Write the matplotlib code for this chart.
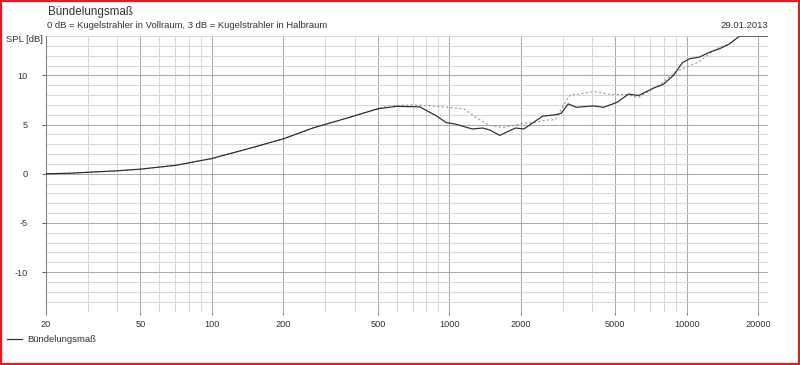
import matplotlib
matplotlib.use('Agg')
import matplotlib.pyplot as plt
from matplotlib.patches import Rectangle
from matplotlib.lines import Line2D

plt.rcParams['font.family'] = ['Liberation Sans', 'DejaVu Sans']

# measured curve (solid)
freq_main = [20, 25, 30, 40, 50, 70, 100, 150, 200, 270, 370, 500, 600, 750,
             880, 970, 1060, 1250, 1380, 1480, 1630, 1900, 2060, 2470, 2810,
             2960, 3170, 3430, 4040, 4460, 5080, 5690, 6270, 7240, 7980, 8800,
             9600, 10300, 11300, 12470, 13740, 15150, 16700, 22000]
spl_main = [0.0, 0.05, 0.15, 0.3, 0.47, 0.85, 1.55, 2.7, 3.55, 4.7, 5.65, 6.6,
            6.85, 6.8, 5.9, 5.2, 5.05, 4.55, 4.65, 4.45, 3.9, 4.65, 4.55, 5.85,
            6.0, 6.15, 7.1, 6.75, 6.9, 6.75, 7.25, 8.1, 7.95, 8.7, 9.1, 10.0,
            11.3, 11.7, 11.85, 12.35, 12.7, 13.2, 14.0, 14.0]

# second curve (dashed, grey)
freq_ref = [20, 25, 30, 40, 50, 70, 100, 150, 200, 270, 370, 480, 550, 700,
            850, 1040, 1150, 1300, 1480, 1690, 1980, 2250, 2560, 2800, 3100,
            3240, 3540, 4040, 4230, 4800, 5600, 6270, 7750, 9050, 10200, 11300,
            13300, 15150, 16700, 22000]
spl_ref = [0.0, 0.05, 0.15, 0.3, 0.47, 0.85, 1.55, 2.7, 3.55, 4.7, 5.65, 6.5,
           6.9, 7.0, 6.9, 6.7, 6.6, 5.7, 4.9, 4.7, 5.05, 5.2, 5.45, 5.5, 7.4,
           8.05, 8.1, 8.35, 8.3, 8.05, 8.05, 7.75, 9.1, 10.4, 10.95, 11.4,
           12.7, 13.2, 14.0, 14.0]

x_major = [20, 50, 100, 200, 500, 1000, 2000, 5000, 10000, 20000]
x_labels = ['20', '50', '100', '200', '500', '1000', '2000', '5000', '10000', '20000']
y_major = [-10, -5, 0, 5, 10]

W, H = 800, 365
fig = plt.figure(figsize=(W / 100, H / 100), dpi=100)
fig.patch.set_facecolor('white')


def fx(px):
    return px / W


def fy(py):
    return 1 - py / H


ax = fig.add_axes([fx(46), fy(311.5), fx(768) - fx(46), fy(36) - fy(311.5)])
ax.set_xscale('log')
ax.set_xlim(20, 22000)
ax.set_ylim(-14, 14)

# grid
minor_x = [m * 10 ** e for e in range(1, 5) for m in range(1, 10)]
for v in minor_x:
    if 20 <= v <= 22000:
        lead = int(str(v)[0])
        c = '#aaaaaa' if lead in (1, 2, 5) else '#d8d8d8'
        ax.axvline(v, color=c, lw=0.75, zorder=1)
for v in range(-14, 15):
    c = '#aaaaaa' if v % 5 == 0 else '#d8d8d8'
    ax.axhline(v, color=c, lw=0.75, zorder=1)

ax.plot(freq_ref, spl_ref, color='#9a9a9a', lw=0.8, ls=(0, (2, 2)), zorder=2)
ax.plot(freq_main, spl_main, color='#2a2a2a', lw=0.85, zorder=3)

for s in ['top', 'right', 'bottom']:
    ax.spines[s].set_visible(False)
ax.spines['left'].set_color('#808080')
ax.spines['left'].set_linewidth(0.75)

ax.set_xticks(x_major)
ax.set_xticklabels(x_labels)
ax.xaxis.set_minor_locator(matplotlib.ticker.NullLocator())
ax.set_yticks(y_major)
ax.set_yticklabels([str(v) for v in y_major])
ax.tick_params(axis='x', length=2, width=0.75, color='#808080', pad=4,
               labelsize=6.6, labelcolor='#333333')
ax.tick_params(axis='y', length=3, width=0.75, color='#606060', pad=10,
               labelsize=6.6, labelcolor='#333333')

txt = dict(color='#333333', transform=fig.transFigure)
fig.text(fx(48), fy(12), 'Bündelungsmaß', fontsize=8.4, va='center', ha='left', **txt)
fig.text(fx(47), fy(25), '0 dB = Kugelstrahler in Vollraum, 3 dB = Kugelstrahler in Halbraum',
         fontsize=6.8, va='center', ha='left', **txt)
fig.text(fx(768), fy(25), '29.01.2013', fontsize=6.8, va='center', ha='right', **txt)
fig.text(fx(43), fy(40), 'SPL [dB]', fontsize=6.8, va='center', ha='right', **txt)

# legend
fig.add_artist(Line2D([fx(7), fx(22)], [fy(339), fy(339)], color='#2a2a2a', lw=0.85,
                      transform=fig.transFigure))
fig.text(fx(27), fy(339), 'Bündelungsmaß', fontsize=6.8, va='center', ha='left', **txt)

# red frame
fig.add_artist(Rectangle((0, 0), 1, 1, transform=fig.transFigure, fill=False,
                         edgecolor='#e8191f', lw=3))

fig.savefig('out.png', dpi=100)
